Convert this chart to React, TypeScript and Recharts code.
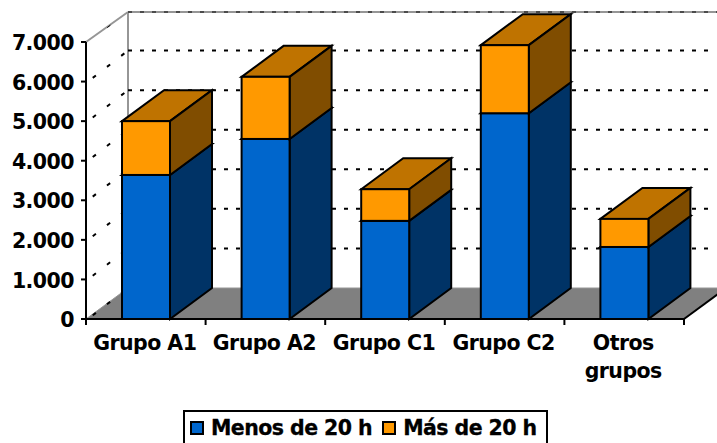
import React from 'react';
import { BarChart, Bar, XAxis, YAxis, CartesianGrid, Legend, Text } from 'recharts';

const categories = ['Grupo A1', 'Grupo A2', 'Grupo C1', 'Grupo C2', 'Otros grupos'];
const menosDe20 = [3640, 4550, 2480, 5200, 1820];
const masDe20 = [1360, 1570, 800, 1720, 710];
const yTicks = [0, 1000, 2000, 3000, 4000, 5000, 6000, 7000];

const chartData = categories.map((name, i) => ({
  name,
  menos: menosDe20[i],
  mas: masDe20[i]
}));

// oblique depth of the fake 3D box
const DX = 42;
const DY = 31;
const PLOT_LEFT = 86;
const PLOT_RIGHT = 684;
const PLOT_TOP = 42;
const PLOT_BOTTOM = 319;
const BAND = (PLOT_RIGHT - PLOT_LEFT) / categories.length;
const FONT = '"DejaVu Sans", sans-serif';
const FONT_SIZE = 20.5;
const labelStyle = {
  fontFamily: FONT,
  fontSize: FONT_SIZE,
  fontWeight: 'bold',
  letterSpacing: -0.55,
  WebkitTextStroke: '0.3px #000'
};

const Box3D = ({ x, y, width, height, fill, sideFill, topFill }: any) => (
  <g stroke="#000" strokeWidth={2} strokeLinejoin="miter">
    <polygon
      points={`${x},${y} ${x + DX},${y - DY} ${x + width + DX},${y - DY} ${x + width},${y}`}
      fill={topFill}
    />
    <polygon
      points={`${x + width},${y} ${x + width + DX},${y - DY} ${x + width + DX},${y + height - DY} ${x + width},${y + height}`}
      fill={sideFill}
    />
    <rect x={x} y={y} width={width} height={height} fill={fill} />
  </g>
);

// grid lines are drawn under the bars, so the walls and floor hang off them
const WallLine = ({ y1 }: any) => {
  const y = y1;
  const left = PLOT_LEFT;
  if (Math.abs(y - PLOT_BOTTOM) < 1) {
    return (
      <g>
        <polygon
          points={`${left},${y} ${left + DX},${y - DY} ${PLOT_RIGHT + DX},${y - DY} ${PLOT_RIGHT},${y}`}
          fill="#808080"
          stroke="#969696"
          strokeWidth={1}
        />
        <line x1={PLOT_RIGHT} y1={y} x2={PLOT_RIGHT + DX} y2={y - DY} stroke="#000" strokeWidth={2} />
        <line x1={left + DX} y1={y - DY} x2={left + DX} y2={PLOT_TOP - DY + 1} stroke="#969696" strokeWidth={2} />
        <line x1={left + 2} y1={y} x2={left + DX} y2={y - DY} stroke="#000" strokeWidth={2} strokeDasharray="0 6 4 8" />
      </g>
    );
  }
  if (Math.abs(y - PLOT_TOP) < 1) {
    return (
      <g>
        <line x1={left} y1={y} x2={left + DX} y2={y - DY + 1} stroke="#969696" strokeWidth={2} />
        <line x1={left + 2} y1={y} x2={left + DX} y2={y - DY + 1} stroke="#000" strokeWidth={1} strokeDasharray="0 24 4 8" />
        <line x1={left + DX} y1={y - DY + 1} x2={717} y2={y - DY + 1} stroke="#969696" strokeWidth={2} />
        <line x1={left + DX} y1={y - DY + 1} x2={717} y2={y - DY + 1} stroke="#000" strokeWidth={1} strokeDasharray="4 8" />
      </g>
    );
  }
  return (
    <g>
      <line x1={left + 2} y1={y} x2={left + DX} y2={y - DY} stroke="#000" strokeWidth={2} strokeDasharray="0 6 4 8" />
      <line x1={left + DX} y1={y - DY} x2={PLOT_RIGHT + 27} y2={y - DY} stroke="#000" strokeWidth={2} strokeDasharray="4 8" />
    </g>
  );
};

const YTick = ({ y, payload }: any) => (
  <g>
    <line x1={PLOT_LEFT - 5} y1={y} x2={PLOT_LEFT} y2={y} stroke="#000" strokeWidth={2} />
    <text x={74} y={y} dy="0.4em" textAnchor="end" style={labelStyle} fill="#000">
      {payload.value.toLocaleString('de-DE')}
    </text>
  </g>
);

const XTick = ({ x, y, payload, index }: any) => (
  <g>
    <line x1={x - BAND / 2} y1={PLOT_BOTTOM} x2={x - BAND / 2} y2={PLOT_BOTTOM + 6} stroke="#000" strokeWidth={2} />
    {index === categories.length - 1 && (
      <line x1={x + BAND / 2} y1={PLOT_BOTTOM} x2={x + BAND / 2} y2={PLOT_BOTTOM + 6} stroke="#000" strokeWidth={2} />
    )}
    <Text
      x={x - 1}
      y={PLOT_BOTTOM + 16}
      width={112}
      textAnchor="middle"
      verticalAnchor="start"
      lineHeight={28}
      style={labelStyle}
      fill="#000"
    >
      {payload.value}
    </Text>
  </g>
);

const LegendBox = ({ payload }: any) => (
  <div
    style={{
      ...labelStyle,
      boxSizing: 'border-box',
      width: 365,
      height: 36,
      border: '2px solid #000',
      background: '#fff',
      display: 'flex',
      alignItems: 'center',
      paddingLeft: 5,
      color: '#000',
      whiteSpace: 'nowrap'
    }}
  >
    {(payload || []).map((item: any) => (
      <span key={item.value} style={{ display: 'flex', alignItems: 'center', marginRight: 10 }}>
        <span
          style={{
            boxSizing: 'border-box',
            width: 14,
            height: 14,
            border: '2px solid #000',
            background: item.color,
            marginRight: 7
          }}
        />
        {item.value}
      </span>
    ))}
  </div>
);

const App = () => (
  <div style={{ position: 'absolute', left: 0, top: 0, width: 717, height: 443, overflow: 'hidden', background: '#fff' }}>
    <BarChart
      width={717}
      height={443}
      data={chartData}
      margin={{ top: PLOT_TOP, right: 717 - PLOT_RIGHT, bottom: 0, left: 0 }}
      barCategoryGap={0}
    >
      <CartesianGrid
        horizontalValues={yTicks}
        vertical={false}
        horizontal={<WallLine />}
      />
      <YAxis
        width={PLOT_LEFT}
        domain={[0, 7000]}
        ticks={yTicks}
        interval={0}
        axisLine={{ stroke: '#000', strokeWidth: 2 }}
        tickLine={false}
        tick={<YTick />}
      />
      <XAxis
        dataKey="name"
        height={90}
        interval={0}
        axisLine={{ stroke: '#000', strokeWidth: 2 }}
        tickLine={false}
        tick={<XTick />}
      />
      <Legend
        height={34}
        content={<LegendBox />}
        wrapperStyle={{ left: 183, top: 410, bottom: 'auto', width: 365 }}
      />
      <Bar
        dataKey="menos"
        name="Menos de 20 h"
        stackId="a"
        barSize={48}
        fill="#0066CC"
        isAnimationActive={false}
        shape={<Box3D sideFill="#003366" topFill="#003366" />}
      />
      <Bar
        dataKey="mas"
        name="Más de 20 h"
        stackId="a"
        barSize={48}
        fill="#FF9900"
        isAnimationActive={false}
        shape={<Box3D sideFill="#804D00" topFill="#BF7300" />}
      />
    </BarChart>
  </div>
);

export default App;
